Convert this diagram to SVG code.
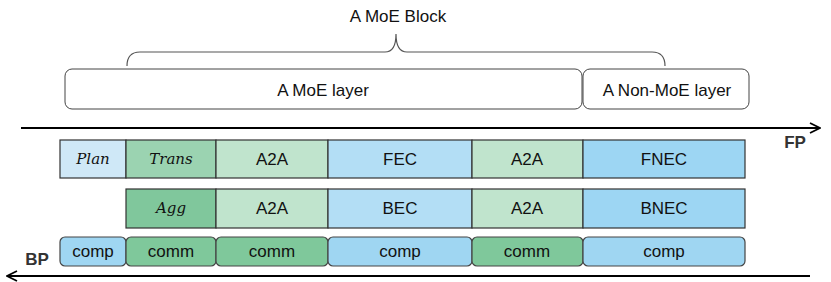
<svg xmlns="http://www.w3.org/2000/svg" width="831" height="282" viewBox="0 0 831 282">
<style>
text{font-family:"Liberation Sans",Arial,sans-serif;font-size:17px;fill:#111;text-anchor:middle;dominant-baseline:central}
.m{font-family:"DejaVu Serif","Liberation Serif",serif;font-style:italic;font-size:15px}
.b{font-weight:bold;fill:#333;font-size:17px}
.cell{stroke:#333;stroke-width:1.2}
.rc{stroke:#444;stroke-width:1.2}
.lay{fill:#fff;stroke:#444;stroke-width:1}
.ax{stroke:#000;stroke-width:2;fill:none}
</style>
<defs>
<marker id="ah" viewBox="0 0 12 12" refX="11" refY="6" markerWidth="12" markerHeight="12" orient="auto-start-reverse" markerUnits="userSpaceOnUse">
<path d="M1,1 L11,6 L1,11" fill="none" stroke="#000" stroke-width="1.8"/>
</marker>
</defs>
<text x="398" y="16">A MoE Block</text>
<path d="M127,66 Q127,52 140,52 L385,52 Q396,52 396,34 Q396,52 407,52 L652,52 Q665,52 665,66" fill="none" stroke="#555" stroke-width="1.2"/>
<g id="moe-layer"><rect class="lay" x="65" y="69" width="517" height="40" rx="7"/><text x="323" y="90">A MoE layer</text></g>
<g id="non-moe-layer"><rect class="lay" x="583" y="69" width="166" height="40" rx="7"/><text x="667" y="90">A Non-MoE layer</text></g>
<g id="connectors">
<line class="ax" x1="21" y1="128" x2="820" y2="128" marker-end="url(#ah)"/>
<line class="ax" x1="810" y1="276" x2="7" y2="276" marker-end="url(#ah)"/>
</g>
<text class="b" x="795" y="142">FP</text>
<text class="b" x="37" y="259">BP</text>
<g id="row1">
<g id="plan"><rect class="cell" x="60" y="140" width="66" height="38" fill="#cfe8f7"/><text class="m" x="93" y="159">Plan</text></g>
<g id="trans"><rect class="cell" x="126" y="140" width="90" height="38" fill="#9bd3b1"/><text class="m" x="171" y="159">Trans</text></g>
<g id="a2a1"><rect class="cell" x="216" y="140" width="112" height="38" fill="#c0e4cd"/><text x="272" y="159">A2A</text></g>
<g id="fec"><rect class="cell" x="328" y="140" width="144" height="38" fill="#b3def5"/><text x="400" y="159">FEC</text></g>
<g id="a2a2"><rect class="cell" x="472" y="140" width="111" height="38" fill="#c0e4cd"/><text x="527" y="159">A2A</text></g>
<g id="fnec"><rect class="cell" x="583" y="140" width="162" height="38" fill="#9dd6f3"/><text x="664" y="159">FNEC</text></g>
</g>
<g id="row2">
<g id="agg"><rect class="cell" x="126" y="189" width="90" height="39" fill="#80c79c"/><text class="m" x="171" y="208">Agg</text></g>
<g id="a2a3"><rect class="cell" x="216" y="189" width="112" height="39" fill="#c0e4cd"/><text x="272" y="208">A2A</text></g>
<g id="bec"><rect class="cell" x="328" y="189" width="144" height="39" fill="#b3def5"/><text x="400" y="208">BEC</text></g>
<g id="a2a4"><rect class="cell" x="472" y="189" width="111" height="39" fill="#c0e4cd"/><text x="527" y="208">A2A</text></g>
<g id="bnec"><rect class="cell" x="583" y="189" width="162" height="39" fill="#9dd6f3"/><text x="664" y="208">BNEC</text></g>
</g>
<g id="row3">
<g id="comp1"><rect class="rc" x="60" y="237" width="66" height="29" rx="5" fill="#9fd6f2"/><text x="93" y="251">comp</text></g>
<g id="comm1"><rect class="rc" x="126" y="237" width="90" height="29" rx="5" fill="#7fc89b"/><text x="171" y="251">comm</text></g>
<g id="comm2"><rect class="rc" x="216" y="237" width="112" height="29" rx="5" fill="#7fc89b"/><text x="272" y="251">comm</text></g>
<g id="comp2"><rect class="rc" x="328" y="237" width="144" height="29" rx="5" fill="#9fd6f2"/><text x="400" y="251">comp</text></g>
<g id="comm3"><rect class="rc" x="472" y="237" width="111" height="29" rx="5" fill="#7fc89b"/><text x="527" y="251">comm</text></g>
<g id="comp3"><rect class="rc" x="583" y="237" width="162" height="29" rx="5" fill="#9fd6f2"/><text x="664" y="251">comp</text></g>
</g>
</svg>
